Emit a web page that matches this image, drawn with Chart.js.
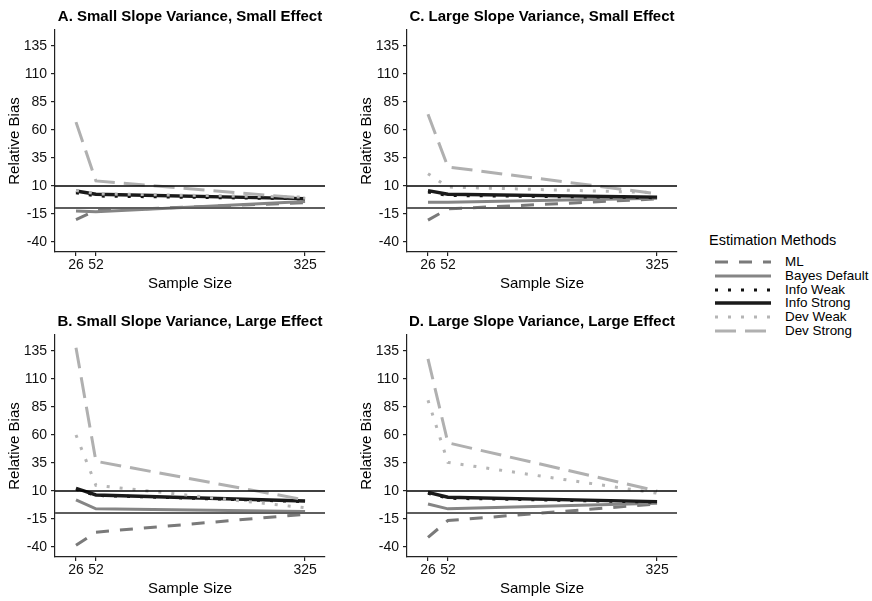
<!DOCTYPE html>
<html>
<head>
<meta charset="utf-8">
<script src="https://cdn.jsdelivr.net/npm/chart.js@4.4.1/dist/chart.umd.min.js"></script>
<style>
  body { margin: 0; background: #fff; font-family: "Liberation Sans", Arial, sans-serif; }
  #wrap { position: relative; width: 872px; height: 601px; overflow: hidden; }
  canvas { position: absolute; }
  #legend { position: absolute; left: 0; top: 0; }
  .lg-title { position: absolute; left: 709px; top: 232px; font-size: 14.5px; color: #000; white-space: nowrap; }
  .lg-row { position: absolute; left: 714px; height: 14px; white-space: nowrap; }
  .lg-row svg { position: absolute; left: 0; top: 0; }
  .lg-row span { position: absolute; left: 71px; top: -1px; font-size: 13.4px; line-height: 15px; color: #000; }
</style>
</head>
<body>
<div id="wrap">
  <canvas id="panelA" width="330" height="300" style="left:0px;top:0px"></canvas>
  <canvas id="panelC" width="330" height="300" style="left:352px;top:0px"></canvas>
  <canvas id="panelB" width="330" height="300" style="left:0px;top:305px"></canvas>
  <canvas id="panelD" width="330" height="300" style="left:352px;top:305px"></canvas>
  <div id="legend"></div>
</div>
<script>
const sampleSizes = [26, 52, 325];
const yTicks = [-40, -15, 10, 35, 60, 85, 110, 135];
const methods = ["ML", "Bayes Default", "Info Weak", "Info Strong", "Dev Weak", "Dev Strong"];

// relative bias per method (rows follow methods order), columns follow sampleSizes
const panelA = [
  [-20, -12, -5],
  [-12.3, -13, -4],
  [4, 1, -1.5],
  [5.5, 2.6, -1.3],
  [6, 3, 0],
  [67, 14.5, -1]
];
const panelC = [
  [-20.5, -10.5, -1.6],
  [-4.5, -4.5, -1],
  [4.5, 1.5, -0.5],
  [5.8, 2.6, 0],
  [21, 9, 4],
  [74, 27, 3]
];
const panelB = [
  [-38.6, -26.8, -10.8],
  [2, -6, -8.4],
  [11.5, 6, 0.5],
  [12.4, 6.4, 1],
  [60, 15, -5],
  [138, 36.5, 2]
];
const panelD = [
  [-31.5, -16.4, -1.6],
  [-1.6, -6, -1],
  [8, 3.5, 0],
  [8.8, 4.4, 0.5],
  [91, 35.5, 8],
  [128, 53, 10]
];

const refValues = [10, -10];

const colors = ["#7a7a7a", "#858585", "#111111", "#1a1a1a", "#b5b5b5", "#b0b0b0"];
const widths = [3, 3, 3, 3.4, 3, 3];
const dashes = [[13, 11], [], [3, 10], [], [3, 10], [21, 9]];

Chart.defaults.font.family = '"Liberation Sans", Arial, sans-serif';

const refLines = {
  id: "refLines",
  afterDatasetsDraw(chart) {
    const { ctx, chartArea, scales } = chart;
    const cols = ["#000000", "#5e5e5e"];
    const lw = [1.5, 2];
    refValues.forEach((v, i) => {
      const py = Math.round(scales.y.getPixelForValue(v));
      ctx.save();
      ctx.strokeStyle = cols[i];
      ctx.lineWidth = lw[i];
      ctx.beginPath();
      ctx.moveTo(chartArea.left, py);
      ctx.lineTo(chartArea.right, py);
      ctx.stroke();
      ctx.restore();
    });
  }
};

function makePanel(id, title, rows) {
  new Chart(document.getElementById(id), {
    type: "line",
    data: {
      datasets: methods.map((m, i) => ({
        label: m,
        data: sampleSizes.map((x, j) => ({ x: x, y: rows[i][j] })),
        borderColor: colors[i],
        borderWidth: widths[i],
        borderDash: dashes[i],
        borderCapStyle: "butt",
        pointRadius: 0,
        tension: 0,
        fill: false,
        order: methods.length - 1 - i
      }))
    },
    options: {
      responsive: false,
      animation: false,
      layout: { padding: { left: 0, right: 5, top: 0, bottom: 0 } },
      plugins: {
        legend: { display: false },
        tooltip: { enabled: false },
        title: {
          display: true,
          text: title,
          fullSize: false,
          color: "#000",
          font: { size: 15, weight: "bold" },
          padding: { top: 8, bottom: 4 }
        }
      },
      scales: {
        x: {
          type: "linear",
          min: -1.4,
          max: 351,
          afterBuildTicks: s => { s.ticks = sampleSizes.map(v => ({ value: v })); },
          afterFit: s => { s.height = 48; },
          grid: { drawOnChartArea: false, drawTicks: true, tickLength: 4, color: "#222", lineWidth: 1.2 },
          border: { color: "#222", width: 1.2 },
          ticks: { color: "#111", font: { size: 14 }, padding: 1, maxRotation: 0, autoSkip: false },
          title: { display: true, text: "Sample Size", color: "#000", font: { size: 15 }, padding: { top: 0, bottom: 7 } }
        },
        y: {
          min: -49,
          max: 149.3,
          afterBuildTicks: s => { s.ticks = yTicks.map(v => ({ value: v })); },
          afterFit: s => { s.width = 55; },
          grid: { drawOnChartArea: false, drawTicks: true, tickLength: 4, color: "#222", lineWidth: 1.2 },
          border: { color: "#222", width: 1.2 },
          ticks: { color: "#111", font: { size: 14 }, padding: 4, autoSkip: false },
          title: { display: true, text: "Relative Bias", color: "#000", font: { size: 15 }, padding: { top: 6, bottom: 0 } }
        }
      }
    },
    plugins: [refLines]
  });
}

makePanel("panelA", "A. Small Slope Variance, Small Effect", panelA);
makePanel("panelC", "C. Large Slope Variance, Small Effect", panelC);
makePanel("panelB", "B. Small Slope Variance, Large Effect", panelB);
makePanel("panelD", "D. Large Slope Variance, Large Effect", panelD);

// legend
const legend = document.getElementById("legend");
const lgTitle = document.createElement("div");
lgTitle.className = "lg-title";
lgTitle.textContent = "Estimation Methods";
legend.appendChild(lgTitle);
methods.forEach((m, i) => {
  const row = document.createElement("div");
  row.className = "lg-row";
  row.style.top = (255 + i * 13.8) + "px";
  const dash = dashes[i].length ? ' stroke-dasharray="' + dashes[i].join(",") + '"' : "";
  row.innerHTML = '<svg width="60" height="14"><line x1="1" y1="7" x2="57" y2="7" stroke="' + colors[i] +
    '" stroke-width="' + widths[i] + '"' + dash + '/></svg><span>' + m + '</span>';
  legend.appendChild(row);
});
</script>
</body>
</html>
